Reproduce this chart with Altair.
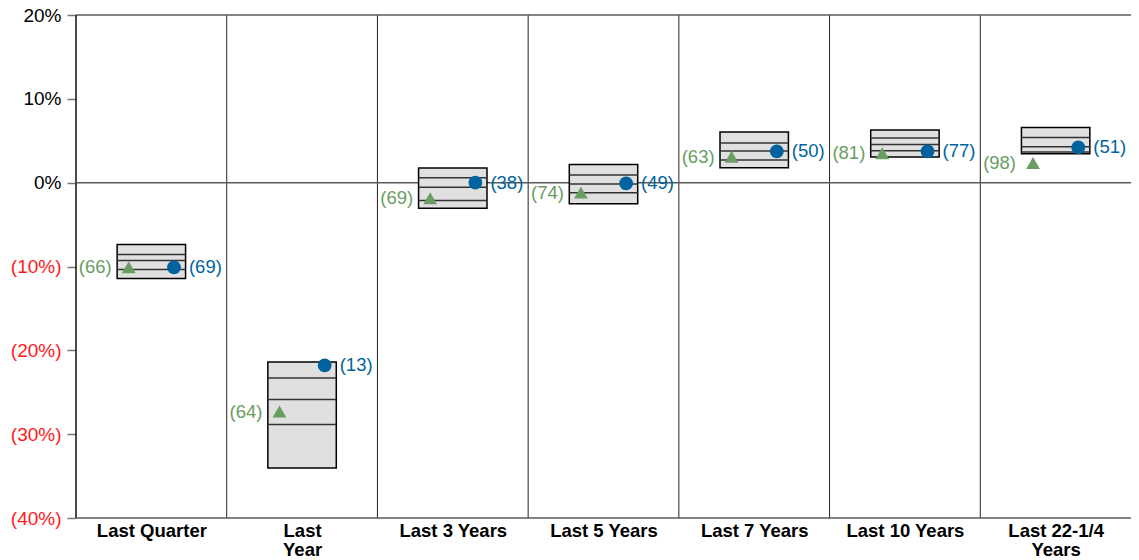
import altair as alt
import pandas as pd

cats = ["Last Quarter", "Last Year", "Last 3 Years", "Last 5 Years",
        "Last 7 Years", "Last 10 Years", "Last 22-1/4 Years"]
cat_lines = [["Last Quarter"], ["Last", "Year"], ["Last 3 Years"], ["Last 5 Years"],
             ["Last 7 Years"], ["Last 10 Years"], ["Last 22-1/4", "Years"]]

box_top = [-7.38, -21.39, 1.75, 2.18, 6.03, 6.27, 6.58]
line_1 = [-8.57, -23.30, 0.60, 0.92, 4.73, 5.32, 5.39]
line_2 = [-9.29, -25.87, -0.56, -0.16, 3.77, 4.56, 4.29]
line_3 = [-10.36, -28.85, -2.14, -1.19, 2.70, 3.81, 3.65]
box_bottom = [-11.43, -34.05, -3.06, -2.50, 1.79, 3.06, 3.45]

index_vals = [-10.1, -27.3, -1.87, -1.19, 3.10, 3.50, 2.34]
index_ranks = [66, 64, 69, 74, 63, 81, 98]
fund_vals = [-10.1, -21.8, 0.0, -0.08, 3.73, 3.73, 4.20]
fund_ranks = [69, 13, 38, 49, 50, 77, 51]

y_ticks = [20, 10, 0, -10, -20, -30, -40]

GREEN = "#6a9d62"
BLUE = "#00639e"
FONT = "Liberation Sans"
HALF = 0.227
OFF = 0.15
H = 503

df = pd.DataFrame({
    "cat": cats,
    "idx": list(range(len(cats))),
    "top": box_top, "l1": line_1, "l2": line_2, "l3": line_3, "bot": box_bottom,
    "ival": index_vals, "irank": [f"({r})" for r in index_ranks],
    "fval": fund_vals, "frank": [f"({r})" for r in fund_ranks],
})

base = alt.Chart(df).transform_calculate(
    xc="datum.idx + 0.5",
    xl=f"datum.idx + 0.5 - {HALF}",
    xr=f"datum.idx + 0.5 + {HALF}",
    xi=f"datum.idx + 0.5 - {OFF}",
    xf=f"datum.idx + 0.5 + {OFF}",
)

label_expr = "[" + ",".join(
    "[" + ",".join(f"'{s}'" for s in lines) + "]" for lines in cat_lines
) + "][floor(datum.value)]"

xscale = alt.Scale(domain=[0, len(cats)], nice=False, zero=False)
yscale = alt.Scale(domain=[-40, 20], nice=False)

x_axis = alt.Axis(
    values=[i + 0.5 for i in range(len(cats))],
    labelExpr=label_expr, title=None, ticks=False, domain=False, grid=False,
    labelFont=FONT, labelFontWeight="bold", labelFontSize=18.5, labelColor="black",
    labelPadding=3, labelLineHeight=19, labelBaseline="top",
)
y_axis = alt.Axis(
    values=y_ticks, title=None, domain=False, grid=False,
    tickSize=9, tickColor="#777777", tickWidth=1.5,
    labelFont=FONT, labelFontSize=19, labelPadding=6,
    labelExpr="datum.value < 0 ? '(' + format(-datum.value, 'd') + '%)' : format(datum.value, 'd') + '%'",
    labelColor=alt.condition("datum.value < 0", alt.value("#ff1a1a"), alt.value("black")),
)

boxes = base.mark_rect(fill="#e0e0e0", stroke="black", strokeWidth=1.5).encode(
    x=alt.X("xl:Q", scale=xscale, axis=x_axis),
    x2="xr:Q",
    y=alt.Y("top:Q", scale=yscale, axis=y_axis),
    y2="bot:Q",
)

inner = alt.layer(*[
    base.mark_rule(color="#333333", strokeWidth=1.5).encode(
        x="xl:Q", x2="xr:Q", y=alt.Y(f"{c}:Q")
    ) for c in ["l1", "l2", "l3"]
])

seps = alt.Chart(pd.DataFrame({"b": list(range(1, len(cats)))})).mark_rule(
    color="#222222", strokeWidth=1
).encode(x=alt.X("b:Q"), y=alt.value(0), y2=alt.value(H))

left = alt.Chart(pd.DataFrame({"b": [0]})).mark_rule(
    color="#111111", strokeWidth=1.5
).encode(x=alt.X("b:Q"), y=alt.value(0), y2=alt.value(H))

hlines = alt.Chart(pd.DataFrame({"z": [20, 0, -40]})).mark_rule(
    color="#5a5a5a", strokeWidth=1.5
).encode(y="z:Q")

tri = base.mark_point(shape="triangle-up", filled=True, color=GREEN, size=190, opacity=1).encode(
    x="xi:Q", y="ival:Q"
)
tri_lbl = base.mark_text(align="right", baseline="middle", dx=-17, color=GREEN,
                         font=FONT, fontSize=18.5).encode(x="xi:Q", y="ival:Q", text="irank:N")
circ = base.mark_point(shape="circle", filled=True, color=BLUE, size=190, opacity=1).encode(
    x="xf:Q", y="fval:Q"
)
circ_lbl = base.mark_text(align="left", baseline="middle", dx=15, color=BLUE,
                          font=FONT, fontSize=18.5).encode(x="xf:Q", y="fval:Q", text="frank:N")

chart = alt.layer(seps, left, hlines, boxes, inner, tri, circ, tri_lbl, circ_lbl).properties(
    width=1055, height=H,
    autosize=alt.AutoSizeParams(type="none"),
    padding={"left": 68, "top": 7, "right": 0, "bottom": 40},
).configure_view(strokeWidth=0)

chart.save("out.html", embed_options={"renderer": "svg", "actions": False})
